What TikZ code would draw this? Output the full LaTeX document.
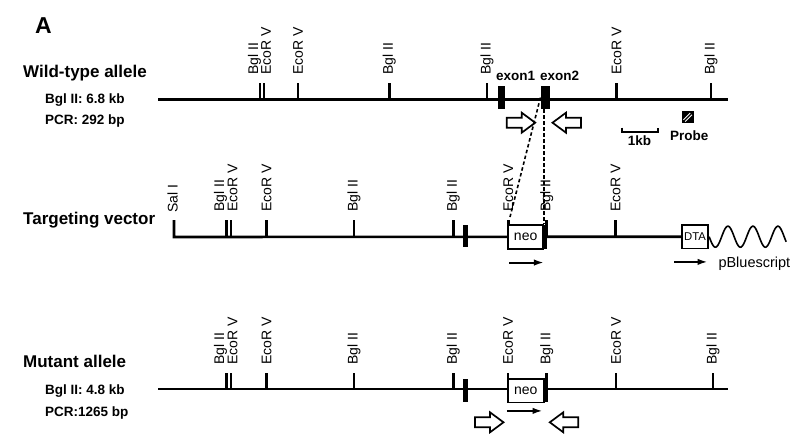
\documentclass[tikz,border=0pt]{standalone}
\usepackage{fontspec}
\setmainfont{Liberation Sans}
\usetikzlibrary{arrows.meta}
\tikzset{
dna/.style={
 draw=black,
 line width=2.6pt
 },
site/.style={
 draw=black,
 line width=2.6pt
 },
sitelab/.style={
 rotate=90,
 anchor=west,
 inner sep=0pt,
 font=\fontsize{14}{14}\selectfont
 },
exon/.style={
 fill=black,
 inner sep=0pt,
 minimum width=6.5pt,
 minimum height=23pt
 },
neobox/.style={
 draw=black,
 fill=white,
 line width=1.7pt,
 inner sep=0pt,
 minimum width=35pt,
 minimum height=24pt,
 font=\fontsize{14}{14}\selectfont
 },
neobar/.style={
 fill=black,
 inner sep=0pt,
 minimum width=4.5pt,
 minimum height=24pt
 },
orient/.style={
 draw=black,
 line width=1.9pt,
 -{Latex[length=10pt,width=6.5pt]}
 },
openarr/.style={
 draw=black,
 fill=white,
 line width=1.7pt,
 line join=miter
 },
dotline/.style={
 draw=black,
 line width=1.6pt,
 dash pattern=on 3.5pt off 2.5pt
 },
title/.style={
 anchor=base west,
 inner sep=0pt,
 font=\fontsize{17}{17}\selectfont\bfseries
 },
info/.style={
 anchor=base west,
 inner sep=0pt,
 font=\fontsize{13.5}{14}\selectfont\bfseries
 }
}
\begin{document}
\begin{tikzpicture}[x=1pt,y=-1pt]
\useasboundingbox (0,0) rectangle (800,444);
\node[anchor=base west, inner sep=0pt, font=\fontsize{23}{23}\selectfont\bfseries] (panel) at (35,33.3) {A};

% wild-type allele
\node[title] (wtname) at (23,77.5) {Wild-type allele};
\node[info] (wtbgl) at (45,103.3) {Bgl II: 6.8 kb};
\node[info] (wtpcr) at (45,124) {PCR: 292 bp};
\draw[dna] (158,99.5) -- (728,99.5);
\draw[site] (259.8,99.5) -- ++(0,-16.5) ++(-5.3,-7) node[sitelab] (wtsa) {Bgl II};
\draw[site] (263.8,99.5) -- ++(0,-16.5) ++(2.3,-7) node[sitelab] (wtsb) {EcoR V};
\draw[site] (298,99.5) -- ++(0,-16.5) ++(0,-7) node[sitelab] (wtsc) {EcoR V};
\draw[site] (389.3,99.5) -- ++(0,-16.5) ++(0,-7) node[sitelab] (wtsd) {Bgl II};
\draw[site] (487,99.5) -- ++(0,-16.5) ++(0,-7) node[sitelab] (wtse) {Bgl II};
\draw[site] (616.5,99.5) -- ++(0,-16.5) ++(0,-7) node[sitelab] (wtsf) {EcoR V};
\draw[site] (711,99.5) -- ++(0,-16.5) ++(0,-7) node[sitelab] (wtsg) {Bgl II};
\node[exon, minimum width=6.7pt] (exonone) at (501.7,97.5) {};
\node[exon, minimum width=9.3pt] (exontwo) at (545.3,97.5) {};
\node[info] (exonelab) at (496,80.7) {exon1};
\node[info] (exontlab) at (540,80.7) {exon2};
\draw[openarr] (506.7,117.7) -- ++(15,0) -- ++(0,-5) -- ++(13.5,10) -- ++(-13.5,10) -- ++(0,-5) -- ++(-15,0) -- cycle;
\draw[openarr] (581,117.7) -- ++(-15,0) -- ++(0,-5) -- ++(-13.5,10) -- ++(13.5,10) -- ++(0,-5) -- ++(15,0) -- cycle;
\draw[line width=1.7pt] (621.7,127.7) -- (621.7,132.3) -- (657.7,132.3) -- (657.7,127.7);
\node[info, anchor=base] (kblab) at (639.5,145.7) {1kb};
\fill[black] (681.7,111.3) rectangle (693.7,123.3);
\draw[white, line width=0.9pt] (683.4,119.8) -- (690.2,113);
\draw[white, line width=0.9pt] (685.2,121.6) -- (692,114.8);
\node[info] (probelab) at (670,140) {Probe};

% targeting vector
\node[title] (tvname) at (23,224.3) {Targeting vector};
\node[draw=black, line width=1.7pt, inner sep=0pt, minimum width=26.6pt, minimum height=23.3pt,
 font=\fontsize{11.3}{12}\selectfont] (dta) at (695,236.7) {DTA};
\draw[dna] (174,220) -- (174,237) -- (dta.west);
\path (174,220) ++(-1.5,-7) node[sitelab] (tvsa) {Sal I};
\draw[site] (226.5,237) -- ++(0,-17) ++(-6,-7) node[sitelab] (tvsb) {Bgl II};
\draw[site] (230.9,237) -- ++(0,-17) ++(1.6,-7) node[sitelab] (tvsc) {EcoR V};
\draw[site] (266.7,237) -- ++(0,-17) ++(0,-7) node[sitelab] (tvsd) {EcoR V};
\draw[site] (354,237) -- ++(0,-17) ++(0,-7) node[sitelab] (tvse) {Bgl II};
\draw[site] (453.3,237) -- ++(0,-17) ++(0,-7) node[sitelab] (tvsf) {Bgl II};
\draw[site] (508.3,237) -- ++(0,-17) ++(0,-7) node[sitelab] (tvsg) {EcoR V};
\draw[site] (546.7,237) -- ++(0,-17) ++(0,-7) node[sitelab] (tvsh) {Bgl II};
\draw[site] (615.7,237) -- ++(0,-17) ++(0,-7) node[sitelab] (tvsi) {EcoR V};
\node[exon, minimum width=5.6pt, minimum height=22pt] (tvexon) at (465.5,236) {};
\node[neobox, minimum width=34.7pt] (tvneo) at (525.65,237) {neo};
\node[neobar] (tvbar) at (545.2,237) {};
\draw[black, line width=1.6pt, domain=0:77, samples=90, smooth, shift={(dta.east)}]
 plot (\x,{10.5*sin(\x*14.4)});
\draw[orient] ([shift={(1.7pt,-12.7pt)}]tvneo.south west) -- ([yshift=-12.7pt]tvneo.south east);
\draw[orient] ([shift={(-6.7pt,-12.7pt)}]dta.south west) -- ([shift={(-1.6pt,-12.7pt)}]dta.south east)
 node[anchor=base west, inner sep=0pt, xshift=10pt, yshift=-5.5pt, font=\fontsize{14.5}{15}\selectfont] (pbs) {pBluescript};
\coordinate (tvcut) at (510,217);
\draw[dotline] (exontwo.west) -- (tvcut);
\draw[dotline] (exontwo.south -| tvneo.north east) -- (tvneo.north east);

% mutant allele
\node[title] (mtname) at (23,367.7) {Mutant allele};
\node[info] (mtbgl) at (45,394) {Bgl II: 4.8 kb};
\node[info] (mtpcr) at (45,416.7) {PCR:1265 bp};
\draw[dna] (158,389) -- (728,389);
\draw[site] (226.5,389) -- ++(0,-16.3) ++(-6,-7) node[sitelab] (mtsa) {Bgl II};
\draw[site] (231,389) -- ++(0,-16.3) ++(1.5,-7) node[sitelab] (mtsb) {EcoR V};
\draw[site] (266.7,389) -- ++(0,-16.3) ++(0,-7) node[sitelab] (mtsc) {EcoR V};
\draw[site] (354,389) -- ++(0,-16.3) ++(0,-7) node[sitelab] (mtsd) {Bgl II};
\draw[site] (453.3,389) -- ++(0,-16.3) ++(0,-7) node[sitelab] (mtse) {Bgl II};
\draw[site] (508,389) -- ++(0,-16.3) ++(0,-7) node[sitelab] (mtsf) {EcoR V};
\draw[site] (546.7,389) -- ++(0,-16.3) ++(0,-7) node[sitelab] (mtsg) {Bgl II};
\draw[site] (616,389) -- ++(0,-16.3) ++(0,-7) node[sitelab] (mtsh) {EcoR V};
\draw[site] (713,389) -- ++(0,-16.3) ++(0,-7) node[sitelab] (mtsi) {Bgl II};
\node[exon, minimum width=5.6pt, minimum height=22.7pt] (mtexon) at (465.5,390.3) {};
\node[neobox, minimum width=36.3pt, minimum height=23.3pt] (mtneo) at (525.85,390.7) {neo};
\node[neobar, minimum height=23.3pt] (mtbar) at (546.2,390.7) {};
\draw[orient] ([yshift=-7.7pt]mtneo.south west) -- ([shift={(-2.3pt,-7.7pt)}]mtneo.south east);
\draw[openarr] (475,417.3) -- ++(15,0) -- ++(0,-5) -- ++(13.5,10) -- ++(-13.5,10) -- ++(0,-5) -- ++(-15,0) -- cycle;
\draw[openarr] (578.3,417.3) -- ++(-15,0) -- ++(0,-5) -- ++(-13.5,10) -- ++(13.5,10) -- ++(0,-5) -- ++(15,0) -- cycle;
\end{tikzpicture}
\end{document}
